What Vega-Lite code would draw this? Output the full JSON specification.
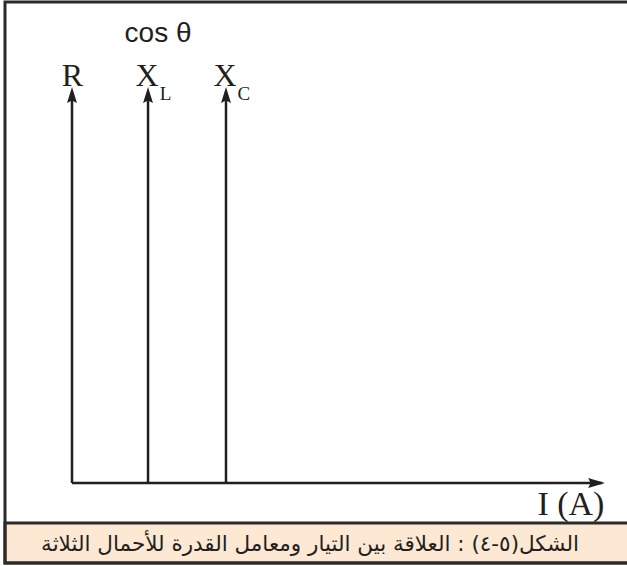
{
  "$schema": "https://vega.github.io/schema/vega-lite/v6.json",
  "width": 627,
  "height": 566,
  "padding": 0,
  "autosize": {"type": "fit", "contains": "padding"},
  "background": "white",
  "config": {"view": {"stroke": null}},
  "encoding": {
    "x": {"field": "x", "type": "quantitative", "axis": null, "scale": {"domain": [-0.929, 7.161], "nice": false, "zero": false}},
    "y": {"field": "y", "type": "quantitative", "axis": null, "scale": {"domain": [-0.2096, 1.2197], "nice": false, "zero": false}}
  },
  "layer": [
    {
      "data": {"values": [{"part": "caption", "x": -0.8645, "x2": 8.1, "y": -0.101, "y2": -0.202}]},
      "mark": {"type": "rect", "clip": true, "fill": "#fde8d4", "stroke": "#2b2b2b", "strokeWidth": 3},
      "encoding": {"x2": {"field": "x2"}, "y2": {"field": "y2"}}
    },
    {
      "data": {"values": [{"part": "frame", "x": -0.8645, "x2": 8.1, "y": 1.2146, "y2": -0.202}]},
      "mark": {"type": "rect", "clip": true, "fill": null, "fillOpacity": 0, "stroke": "#2b2b2b", "strokeWidth": 3},
      "encoding": {"x2": {"field": "x2"}, "y2": {"field": "y2"}}
    },
    {
      "data": {"values": [
        {"name": "R", "x": 0, "x2": 0, "y": 0, "y2": 0.97},
        {"name": "XL", "x": 0.981, "x2": 0.981, "y": 0, "y2": 0.97},
        {"name": "XC", "x": 1.987, "x2": 1.987, "y": 0, "y2": 0.97},
        {"name": "I", "x": 0, "x2": 6.84, "y": 0, "y2": 0}
      ]},
      "mark": {"type": "rule", "color": "#231f20", "strokeWidth": 2.5},
      "encoding": {"x2": {"field": "x2"}, "y2": {"field": "y2"}}
    },
    {
      "data": {"values": [
        {"dir": "up", "x": 0, "y": 1},
        {"dir": "up", "x": 0.981, "y": 1},
        {"dir": "up", "x": 1.987, "y": 1},
        {"dir": "right", "x": 6.877, "y": 0}
      ]},
      "mark": {"type": "point", "filled": true, "color": "#231f20", "opacity": 1, "size": 256, "strokeWidth": 0},
      "encoding": {
        "shape": {"field": "dir", "type": "nominal", "legend": null, "scale": {"domain": ["up", "right"], "range": ["M0,0L0.62,2L0,1.7L-0.62,2Z", "M0,0L-2.1,-0.62L-1.8,0L-2.1,0.62Z"]}}
      }
    },
    {
      "data": {"values": [{"label": "cos θ", "x": 1.11, "y": 1.1136}]},
      "mark": {"type": "text", "font": "Liberation Sans", "fontSize": 28, "align": "center", "baseline": "alphabetic", "color": "#231f20"},
      "encoding": {"text": {"field": "label"}}
    },
    {
      "data": {"values": [
        {"label": "R", "x": 0.006, "y": 1.0025},
        {"label": "X", "x": 0.968, "y": 1.0025},
        {"label": "X", "x": 1.974, "y": 1.0025}
      ]},
      "mark": {"type": "text", "font": "Liberation Serif", "fontSize": 32, "align": "center", "baseline": "alphabetic", "color": "#231f20"},
      "encoding": {"text": {"field": "label"}}
    },
    {
      "data": {"values": [
        {"label": "L", "x": 1.132, "y": 0.967},
        {"label": "C", "x": 2.135, "y": 0.967}
      ]},
      "mark": {"type": "text", "font": "Liberation Serif", "fontSize": 19, "align": "left", "baseline": "alphabetic", "color": "#231f20"},
      "encoding": {"text": {"field": "label"}}
    },
    {
      "data": {"values": [{"label": "I (A)", "x": 6.87, "y": -0.0808}]},
      "mark": {"type": "text", "font": "Liberation Serif", "fontSize": 34, "align": "right", "baseline": "alphabetic", "color": "#231f20"},
      "encoding": {"text": {"field": "label"}}
    },
    {
      "data": {"values": [{"label": "الشكل(٥-٤) : العلاقة بين التيار ومعامل القدرة للأحمال الثلاثة", "x": 3.071, "y": -0.1717}]},
      "mark": {"type": "text", "font": "DejaVu Sans", "fontSize": 21.5, "align": "center", "baseline": "alphabetic", "color": "#231f20"},
      "encoding": {"text": {"field": "label"}}
    }
  ]
}
